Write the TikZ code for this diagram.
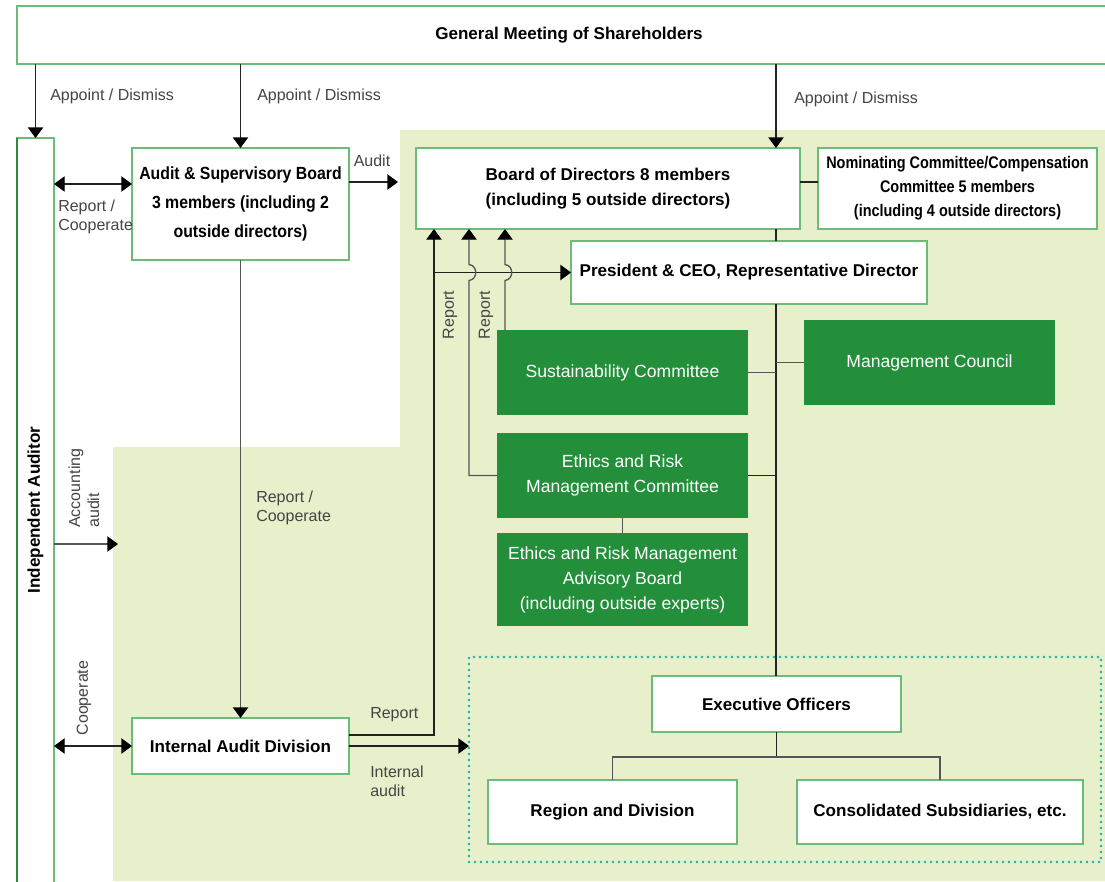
\documentclass[tikz,border=0pt]{standalone}
\usepackage{fontspec}
\setmainfont{Liberation Sans}
\newfontfamily\condA[FakeStretch=0.9]{Liberation Sans}
\newfontfamily\condB[FakeStretch=0.86]{Liberation Sans}
\usetikzlibrary{arrows.meta,calc}
\definecolor{bgg}{HTML}{E8F0CB}
\definecolor{bdr}{HTML}{6DBB78}
\definecolor{bdrd}{HTML}{2E8B3E}
\definecolor{dkg}{HTML}{238F3B}
\definecolor{teal2}{HTML}{17AE9E}
\definecolor{lbl}{HTML}{444444}
\definecolor{ln}{HTML}{222222}
\definecolor{lng}{HTML}{555555}
\tikzset{
 wbox/.style={draw=bdr, line width=1pt, fill=white, inner sep=0pt, outer sep=0pt, align=center,
   font=\fontsize{12.8}{18.75}\selectfont\bfseries, text=black},
 gbox/.style={fill=dkg, draw=none, inner sep=0pt, outer sep=0pt, align=center,
   font=\fontsize{13.2}{18.75}\selectfont, text=white},
 dotbox/.style={draw=teal2, line width=2pt, dash pattern=on 0pt off 4.5pt, line cap=round, inner sep=0pt, outer sep=0pt},
 lab/.style={text=lbl, font=\fontsize{12}{14.25}\selectfont, inner sep=0pt, align=left},
 con/.style={draw=ln, line width=1pt},
 tip/.style={Triangle[length=8pt,width=11.5pt,color=black]},
 arr/.style={con, -{Triangle[length=8pt,width=11.5pt,color=black]}},
 darr/.style={con, {Triangle[length=8pt,width=11.5pt,color=black]}-{Triangle[length=8pt,width=11.5pt,color=black]}},
}
\newcommand\pxbox[7]{\node[#1, minimum width={(#5-#3)*0.75pt}, minimum height={(#6-#4)*0.75pt}] (#2) at ({(#3+#5)/2},{(#4+#6)/2}) {#7};}
\begin{document}
\begin{tikzpicture}[x=0.75pt,y=-0.75pt]
\useasboundingbox (0,0) rectangle (1105,881);
\clip (0,0) rectangle (1105,881);
\fill[white] (0,0) rectangle (1105,881);
\fill[bgg] (400,130) -- (1105,130) -- (1105,881) -- (113,881) -- (113,447) -- (400,447) -- cycle;

% helper coordinates
\coordinate (spine) at (776,0);
\coordinate (rx) at (434,0);
\coordinate (hA) at (469,272.5);
\coordinate (hB) at (505,272.5);
\coordinate (y182) at (0,182);
\coordinate (y184) at (0,184);
\coordinate (y510) at (0,510);
\coordinate (y544) at (0,544);
\coordinate (y735) at (0,735);
\coordinate (tree) at (0,757);
\coordinate (auditend) at (398,182);
\coordinate (accend) at (118,544);

% boxes
\pxbox{wbox}{gm}{17}{6}{1121}{64}{General Meeting of Shareholders}
\pxbox{wbox}{ia}{17}{138}{54}{900}{}
\draw[bdrd, line width=1pt] (ia.north west) -- (ia.south west);
\node[font=\fontsize{12.8}{15}\selectfont\bfseries, rotate=90, inner sep=0pt] (iat) at (ia.center |- y510) {Independent Auditor};
\pxbox{wbox, font=\condA\fontsize{13.2}{21.5}\selectfont\bfseries}{asb}{132}{148}{349}{260}{Audit \& Supervisory Board\\3 members (including 2\\outside directors)}
\pxbox{wbox}{bod}{416}{148}{800}{229}{Board of Directors 8 members\\(including 5 outside directors)}
\pxbox{wbox, font=\condB\fontsize{12.6}{18}\selectfont\bfseries}{nom}{818}{148}{1097}{229}{Nominating Committee/Compensation\\Committee 5 members\\(including 4 outside directors)}
\pxbox{wbox}{pres}{571}{241}{927}{304}{President \& CEO, Representative Director}
\pxbox{gbox}{sust}{497}{330}{748}{415}{Sustainability Committee}
\pxbox{gbox}{mc}{804}{320}{1055}{405}{Management Council}
\pxbox{gbox}{eth}{497}{433}{748}{518}{Ethics and Risk\\Management Committee}
\pxbox{gbox}{adv}{497}{533}{748}{626}{Ethics and Risk Management\\Advisory Board\\(including outside experts)}
\pxbox{dotbox}{exgroup}{469}{657}{1101}{862}{}
\pxbox{wbox}{eo}{652}{676}{901}{732}{Executive Officers}
\pxbox{wbox}{reg}{488}{780}{737}{844}{Region and Division}
\pxbox{wbox}{cons}{797}{780}{1083}{844}{Consolidated Subsidiaries, etc.}
\pxbox{wbox}{iad}{132}{718}{349}{774}{Internal Audit Division}

% appoint / dismiss
\draw[arr] (gm.south -| ia.north) -- (ia.north);
\draw[arr] (gm.south -| asb.north) -- (asb.north);
\draw[arr] (gm.south -| spine) -- (bod.north -| spine);
\node[lab, anchor=west] (ad1) at (50,96) {Appoint / Dismiss};
\node[lab, anchor=west] (ad2) at (257,96) {Appoint / Dismiss};
\node[lab, anchor=west] (ad3) at (794,99) {Appoint / Dismiss};

% auditor <-> ASB
\draw[darr] (ia.east |- y184) -- (asb.west |- y184);
\node[lab, anchor=west] (rc1) at (58,217) {Report /\\Cooperate};
% audit
\draw[arr] (asb.east |- y182) -- (auditend);
\node[lab] (aud) at (372,161) {Audit};
% BoD - Nom
\draw[con] (bod.east |- y182) -- (nom.west |- y182);

% spine
\draw[con] (bod.south -| spine) -- (pres.north -| spine);
\draw[con] (pres.south -| spine) -- (eo.north -| spine);
\draw[con, draw=lng] (sust.east) -- (sust.east -| spine);
\draw[con, draw=lng] (mc.west -| spine) -- (mc.west);
\draw[con] (eth.east) -- (eth.east -| spine);
\draw[con, draw=lng] (eth.south) -- (adv.north);
\draw[con] (eo.south) -- (eo.south |- tree);
\draw[con, draw=lng] (reg.north) |- (eo.south |- tree) -| (cons.north);

% ASB -> IAD
\draw[arr, draw=lng] (asb.south) -- (iad.north);
\node[lab, anchor=west] (rc2) at (256,508) {Report /\\Cooperate};

% Auditor <-> IAD
\draw[darr] (ia.east |- iad.west) -- (iad.west);
\node[lab, rotate=90] (coop) at (84,698) {Cooperate};

% accounting audit
\draw[arr, draw=lng] (ia.east |- y544) -- (accend);
\node[lab, rotate=90, anchor=west] (acc) at (84,528) {Accounting\\audit};

% IAD report to BoD and president
\draw[arr] (iad.east |- y735) -| (bod.south -| rx);
\node[lab, anchor=west] (rep0) at (370,715) {Report};
\draw[arr] (rx |- pres.west) -- (pres.west);

% reports with hops
\draw[arr, draw=lng] (eth.west) -- (eth.west -| hA) -- ($(hA)+(0,8)$)
  .. controls ($(hA)+(9,7)$) and ($(hA)+(9,-7)$) .. ($(hA)+(0,-8)$) -- (bod.south -| hA);
\draw[arr, draw=lng] (sust.north -| hB) -- ($(hB)+(0,8)$)
  .. controls ($(hB)+(9,7)$) and ($(hB)+(9,-7)$) .. ($(hB)+(0,-8)$) -- (bod.south -| hB);
\node[lab, rotate=90] (rep1) at (450,315) {Report};
\node[lab, rotate=90] (rep2) at (486,315) {Report};

% internal audit
\draw[arr] (iad.east) -- (iad.east -| exgroup.west);
\node[lab, anchor=west] (ina) at (370,781) {Internal\\audit};
\end{tikzpicture}
\end{document}
